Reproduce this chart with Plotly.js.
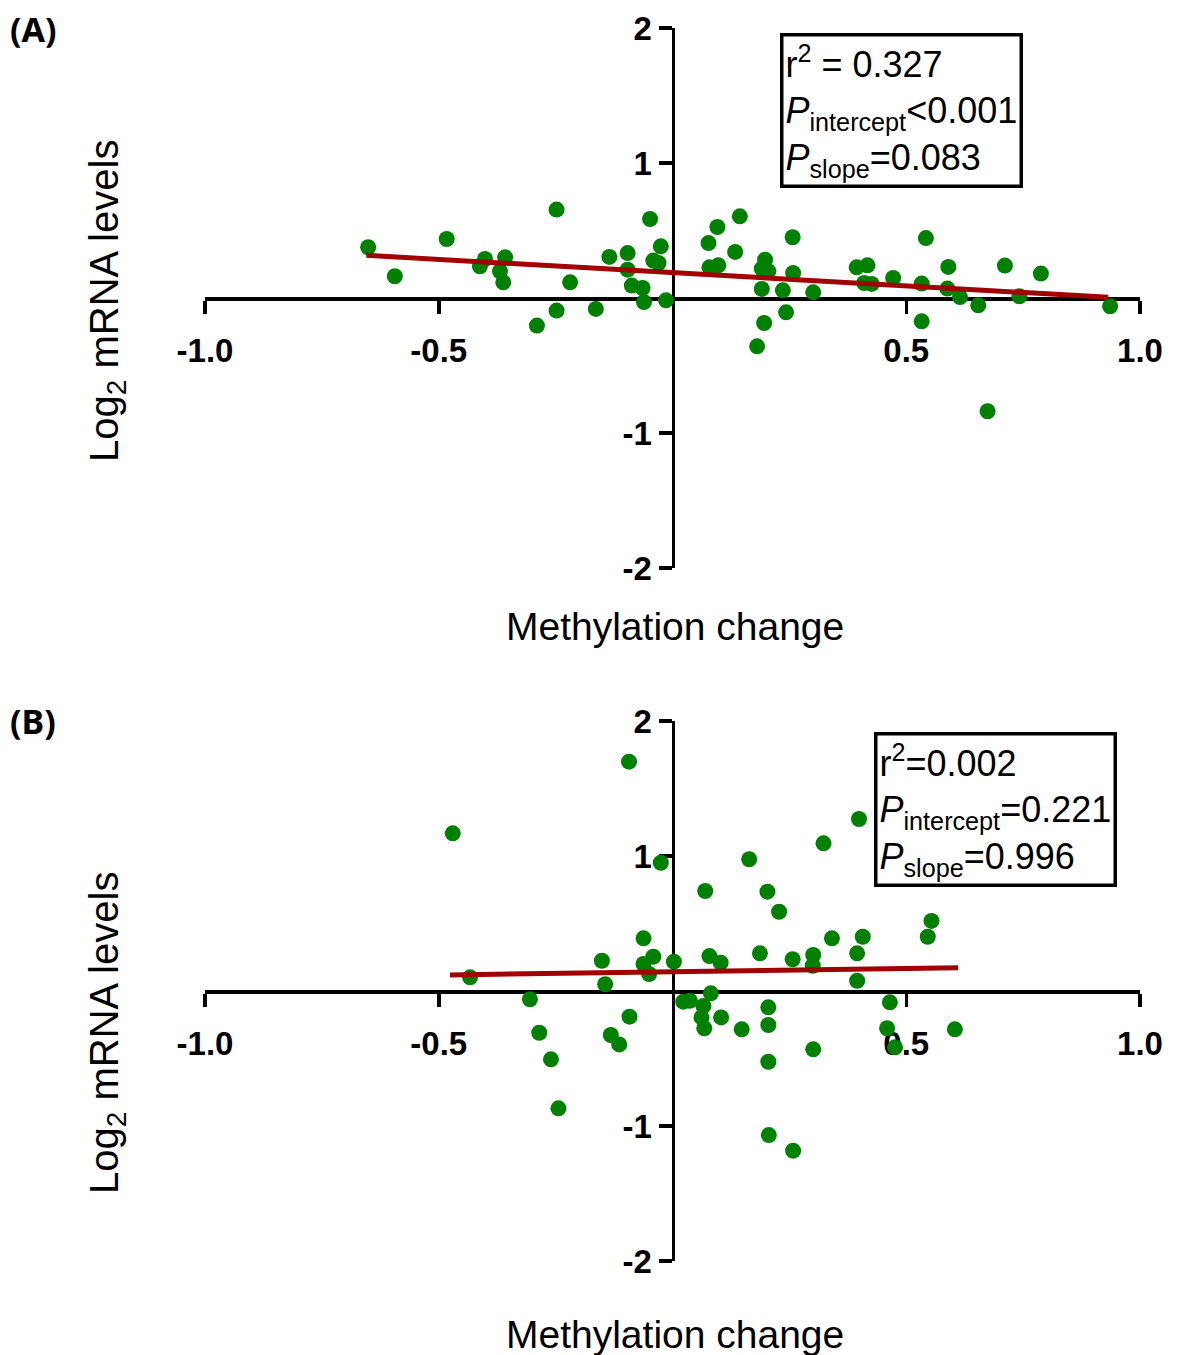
<!DOCTYPE html>
<html>
<head>
<meta charset="utf-8">
<script src="https://cdn.plot.ly/plotly-3.0.1.min.js"></script>
<style>html,body{margin:0;padding:0;background:#fff;}#chart{width:1178px;height:1355px;}</style>
</head>
<body>
<div id="chart"></div>
<script>
// Panel A data (methylation change vs log2 mRNA)
const xA = [-0.651,-0.594,-0.483,-0.401,-0.412,-0.358,-0.369,-0.362,-0.290,-0.248,-0.248,-0.219,-0.164,-0.135,-0.096,-0.096,-0.087,-0.064,-0.061,-0.048,-0.025,-0.041,-0.030,-0.014,
  0.077,0.096,0.144,0.079,0.098,0.134,0.198,0.191,0.205,0.191,0.236,0.257,0.258,0.301,0.243,0.196,0.181,0.394,0.417,0.410,0.426,0.472,0.542,0.533,0.533,0.590,0.588,0.615,0.654,0.711,0.742,0.788,0.936,0.674];
const yA = [0.376,0.161,0.437,0.289,0.235,0.301,0.198,0.116,-0.204,0.655,-0.093,0.116,-0.081,0.304,0.333,0.210,0.092,0.074,-0.030,0.585,0.383,0.277,0.259,-0.017,
  0.407,0.526,0.605,0.227,0.242,0.341,0.284,0.218,0.198,0.067,0.057,0.450,0.185,0.042,-0.106,-0.185,-0.358,0.227,0.242,0.111,0.104,0.148,0.444,0.107,-0.173,0.230,0.070,0.007,-0.054,0.240,0.013,0.181,-0.061,-0.839];
const fitAx = [-0.655, 0.932];
const fitAy = [0.316, 0.005];

// Panel B data
const xB = [-0.470,-0.093,-0.025,-0.433,-0.305,-0.285,-0.260,-0.244,-0.151,-0.144,-0.132,-0.114,-0.092,-0.062,-0.062,-0.041,-0.050,0.003,
  0.070,0.164,0.323,0.399,0.203,0.228,0.079,0.103,0.187,0.257,0.301,0.300,0.341,0.407,0.395,0.395,0.554,0.546,
  0.023,0.037,0.082,0.066,0.062,0.068,0.104,0.148,0.205,0.205,0.205,0.301,0.465,0.459,0.476,0.604,0.206,0.258];
const yB = [1.168,1.699,0.950,0.101,-0.061,-0.309,-0.506,-0.869,0.224,0.050,-0.326,-0.396,-0.190,0.390,0.200,0.254,0.126,0.217,
  0.741,0.976,1.094,1.274,0.736,0.587,0.259,0.210,0.279,0.235,0.267,0.187,0.390,0.402,0.279,0.076,0.519,0.402,
  -0.079,-0.072,-0.017,-0.111,-0.196,-0.276,-0.196,-0.284,-0.121,-0.252,-0.524,-0.432,-0.084,-0.276,-0.417,-0.284,-1.067,-1.183];
const fitBx = [-0.476, 0.611];
const fitBy = [0.119, 0.173];

const xTickVals = [-1, -0.5, 0.5, 1];
const xTickText = ['-1.0', '-0.5', '0.5', '1.0'];
const yTickVals = [-2, -1, 1, 2];
const yTickText = ['-2', '-1', '1', '2'];

const statsA = 'r<sup>2</sup> = 0.327<br><i>P</i><sub>intercept</sub>&lt;0.001<br><i>P</i><sub>slope</sub>=0.083';
const statsB = 'r<sup>2</sup>=0.002<br><i>P</i><sub>intercept</sub>=0.221<br><i>P</i><sub>slope</sub>=0.996';

const W = 1178, H = 1355;
const px = v => v / W;
const py = v => 1 - v / H;

const FONT = 'Liberation Sans, Arial, sans-serif';
const GREEN = '#008000';
const RED = '#a00000';

const traces = [
  {x: xA, y: yA, type: 'scatter', mode: 'markers', xaxis: 'x', yaxis: 'y',
   marker: {color: GREEN, size: 16}, hoverinfo: 'skip'},
  {x: fitAx, y: fitAy, type: 'scatter', mode: 'lines', xaxis: 'x', yaxis: 'y',
   line: {color: RED, width: 5}, hoverinfo: 'skip'},
  {x: xB, y: yB, type: 'scatter', mode: 'markers', xaxis: 'x2', yaxis: 'y2',
   marker: {color: GREEN, size: 16}, hoverinfo: 'skip'},
  {x: fitBx, y: fitBy, type: 'scatter', mode: 'lines', xaxis: 'x2', yaxis: 'y2',
   line: {color: RED, width: 5}, hoverinfo: 'skip'}
];

const xDom = [px(205), px(1140)];
const yDomA = [py(568), py(28)];
const yDomB = [py(1261), py(721)];

const tickFont = {family: FONT, size: 33, color: '#000', weight: 'bold'};

function xAxisDef(yDom) {
  return {
    domain: xDom, range: [-1, 1], anchor: 'free', position: (yDom[0] + yDom[1]) / 2,
    showgrid: false, zeroline: false, showline: true, linecolor: '#000', linewidth: 3.5,
    ticks: 'outside', ticklen: 13, tickwidth: 3.5, tickcolor: '#000',
    tickvals: xTickVals, ticktext: xTickText, ticklabelstandoff: 9,
    tickfont: tickFont,
    layer: 'below traces', fixedrange: true, automargin: false
  };
}
function yAxisDef(yDom) {
  return {
    domain: yDom, range: [-2, 2], anchor: 'free', position: (xDom[0] + xDom[1]) / 2,
    showgrid: false, zeroline: false, showline: true, linecolor: '#000', linewidth: 3.5,
    ticks: 'outside', ticklen: 13, tickwidth: 3.5, tickcolor: '#000',
    tickvals: yTickVals, ticktext: yTickText,
    tickfont: tickFont,
    layer: 'below traces', fixedrange: true, automargin: false
  };
}

const annFont = {family: FONT, size: 36, color: '#000'};
const xTitleFont = {family: FONT, size: 39, color: '#000'};
const yTitleFont = {family: FONT, size: 40, color: '#000'};
const panelFont = {family: 'Noto Sans, Liberation Sans, sans-serif', size: 34, color: '#000', weight: 'bold'};

const annotations = [
  {text: '(A)', xref: 'paper', yref: 'paper', x: px(8), y: py(4), xanchor: 'left', yanchor: 'top', showarrow: false, font: panelFont},
  {text: '(B)', xref: 'paper', yref: 'paper', x: px(8), y: py(696), xanchor: 'left', yanchor: 'top', showarrow: false, font: panelFont},
  {text: statsA, xref: 'paper', yref: 'paper', x: px(780), y: py(33), xanchor: 'left', yanchor: 'top', align: 'left',
   showarrow: false, font: annFont, bordercolor: '#000', borderwidth: 3.5, borderpad: 2, bgcolor: '#fff'},
  {text: statsB, xref: 'paper', yref: 'paper', x: px(874), y: py(732), xanchor: 'left', yanchor: 'top', align: 'left',
   showarrow: false, font: annFont, bordercolor: '#000', borderwidth: 3.5, borderpad: 2, bgcolor: '#fff'},
  {text: 'Methylation change', xref: 'paper', yref: 'paper', x: px(675), y: py(627), xanchor: 'center', yanchor: 'middle', showarrow: false, font: xTitleFont},
  {text: 'Methylation change', xref: 'paper', yref: 'paper', x: px(675), y: py(1334), xanchor: 'center', yanchor: 'middle', showarrow: false, font: xTitleFont},
  {text: 'Log<sub>2</sub> mRNA levels', xref: 'paper', yref: 'paper', x: px(107), y: py(301), xanchor: 'center', yanchor: 'middle', textangle: -90, showarrow: false, font: yTitleFont},
  {text: 'Log<sub>2</sub> mRNA levels', xref: 'paper', yref: 'paper', x: px(107), y: py(1033), xanchor: 'center', yanchor: 'middle', textangle: -90, showarrow: false, font: yTitleFont}
];

const layout = {
  width: W, height: H,
  margin: {l: 0, r: 0, t: 0, b: 0, pad: 0},
  paper_bgcolor: '#fff', plot_bgcolor: 'rgba(0,0,0,0)',
  showlegend: false,
  xaxis: xAxisDef(yDomA), yaxis: yAxisDef(yDomA),
  xaxis2: xAxisDef(yDomB), yaxis2: yAxisDef(yDomB),
  annotations: annotations,
  font: {family: FONT, color: '#000'}
};

Plotly.newPlot('chart', traces, layout, {displayModeBar: false, staticPlot: true});
</script>
</body>
</html>
